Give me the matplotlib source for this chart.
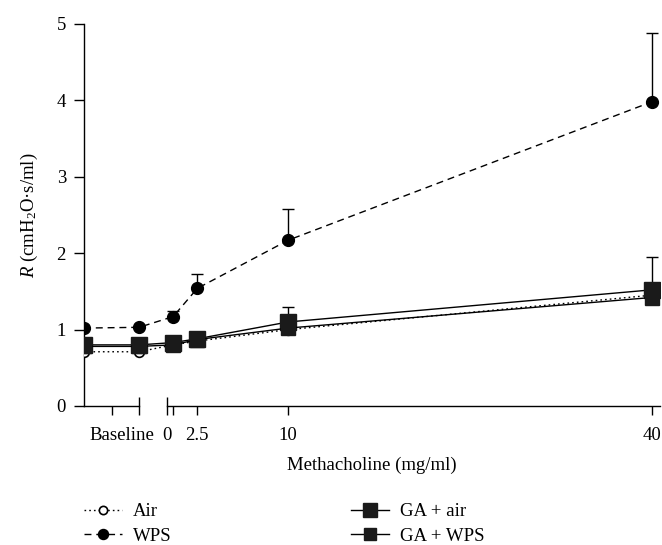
import matplotlib
matplotlib.use("Agg")
import matplotlib.pyplot as plt
import matplotlib.transforms as mtransforms

plt.rcParams['font.family'] = ['Liberation Serif', 'DejaVu Serif']
plt.rcParams['mathtext.fontset'] = 'custom'
plt.rcParams['mathtext.rm'] = 'Liberation Serif'
plt.rcParams['mathtext.it'] = 'Liberation Serif:italic'

# x positions: two baseline readings (plotted left of the break) + methacholine doses
base_x = [-6.86, -2.31]
dose_x = [0.5, 2.5, 10, 40]
x_all = base_x + dose_x

air = [0.71, 0.71, 0.80, 0.85, 1.00, 1.45]
wps = [1.02, 1.03, 1.17, 1.54, 2.17, 3.98]
wps_err = [0.0, 0.0, 0.08, 0.19, 0.41, 0.90]
ga_air = [0.80, 0.80, 0.83, 0.88, 1.10, 1.52]
ga_air_err = [0.0, 0.0, 0.0, 0.0, 0.20, 0.43]
ga_wps = [0.78, 0.78, 0.80, 0.87, 1.02, 1.42]

fs = 13.5

fig = plt.figure(figsize=(6.62, 5.45), dpi=100)
ax = fig.add_axes([84/662, 1 - 406/545, (660 - 84)/662, (406 - 24)/545])

lw = 1.0
ax.plot(x_all, air, linestyle=(0, (1.2, 2.2)), color='black', lw=lw,
        marker='o', ms=7, mfc='white', mec='black', mew=1.2, label='Air', zorder=3)
ax.errorbar(x_all, wps, yerr=[[0]*len(wps), wps_err], fmt='none', ecolor='black',
            elinewidth=lw, capsize=4, capthick=lw, zorder=2)
ax.plot(x_all, wps, linestyle=(0, (5, 3.5)), color='black', lw=lw,
        marker='o', ms=8.5, mfc='black', mec='black', label='WPS', zorder=4)
ax.errorbar(x_all, ga_air, yerr=[[0]*len(ga_air), ga_air_err], fmt='none', ecolor='black',
            elinewidth=lw, capsize=4, capthick=lw, zorder=2)
ax.plot(x_all, ga_air, linestyle='-', color='black', lw=lw,
        marker='s', ms=11.5, mfc='#1a1a1a', mec='#1a1a1a', label='GA + air', zorder=5)
ax.plot(x_all, ga_wps, linestyle='-', color='black', lw=lw,
        marker='s', ms=9.5, mfc='#1a1a1a', mec='#1a1a1a', label='GA + WPS', zorder=6)

ax.set_xlim(base_x[0], 40.7)
ax.set_ylim(0, 5)
ax.spines['top'].set_visible(False)
ax.spines['right'].set_visible(False)
ax.spines['bottom'].set_bounds(0, 40.7)
ax.spines['left'].set_bounds(0, 5)
for s in ['left', 'bottom']:
    ax.spines[s].set_linewidth(1.0)

# baseline segment of the broken x axis
ax.plot(base_x, [0, 0], color='black', lw=1.0, clip_on=False, zorder=1)

ax.set_yticks([0, 1, 2, 3, 4, 5])
ax.tick_params(axis='y', direction='out', length=7, width=1.0, labelsize=fs, pad=6)

ax.set_xticks([(base_x[0] + base_x[1]) / 2, 0.5, 2.5, 10, 40])
ax.set_xticklabels(['', '', '2.5', '10', '40'])
ax.set_xticks([base_x[1], 0], minor=True)
ax.set_xticklabels(['', '0'], minor=True)
ax.tick_params(axis='x', which='major', direction='out', length=6.5, width=1.0, labelsize=fs, pad=8.5)
ax.tick_params(axis='x', which='minor', direction='inout', length=13, width=1.0, labelsize=fs, pad=8.5)

trans = mtransforms.blended_transform_factory(ax.transData, ax.transAxes)
ax.text(-3.75, -0.054, 'Baseline', transform=trans, ha='center', va='top', fontsize=fs)

ax.set_xlabel('Methacholine (mg/ml)', fontsize=fs, labelpad=9)
ax.set_ylabel('$R$ (cmH$_2$O·s/ml)', fontsize=fs, labelpad=12)

fig.legend(loc='upper left', bbox_to_anchor=(84/662, 1 - 503/545), ncol=2,
           frameon=False, fontsize=fs, handlelength=2.0, columnspacing=9.6,
           labelspacing=0.4, handletextpad=0.6, borderpad=0, borderaxespad=0,
           markerscale=0.85)

fig.savefig('out.png', dpi=100)
